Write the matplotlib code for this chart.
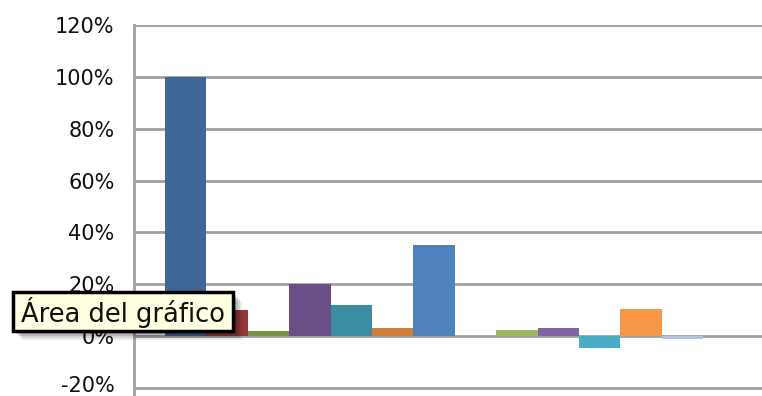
import matplotlib.pyplot as plt
import matplotlib.transforms as mtransforms
from matplotlib.patches import FancyBboxPatch
from matplotlib.ticker import PercentFormatter

# one category, thirteen series (Excel-style clustered columns)
series_values = [1.00, 0.10, 0.02, 0.20, 0.12, 0.03, 0.35,
                 0.00, 0.025, 0.03, -0.045, 0.105, -0.01]
series_colors = ["#3E6797", "#953735", "#77933C", "#6A4F87", "#3C8DA3", "#D07D3A",
                 "#4F81BD", "#C0504D", "#9BBB59", "#8064A2", "#4BACC6", "#F79646",
                 "#B3C2E2"]
y_ticks = [-0.2, 0.0, 0.2, 0.4, 0.6, 0.8, 1.0, 1.2]
tooltip_text = "Área del gráfico"

plt.rcParams["axes.unicode_minus"] = False

W, H = 762, 396
fig = plt.figure(figsize=(W / 100, H / 100), dpi=100)
ax = fig.add_axes([134 / W, 0, (W - 134) / W, 1 - 25 / H])

xs = list(range(len(series_values)))
ax.bar(xs, series_values, width=1.0, color=series_colors, linewidth=0, zorder=3)

# 20% step is ~52 px; let the axis run a little below -20%
ax.set_ylim(-0.2 - 8 / 260, 1.2)
ax.set_xlim(-1.25, -1.25 + (W - 134) / 41.4)
ax.yaxis.set_major_formatter(PercentFormatter(1.0, decimals=0))
ax.set_yticks(y_ticks)
ax.set_xticks([])
ax.grid(axis="y", color="#A0A0A0", linewidth=2, zorder=0)
for s in ["top", "right", "bottom"]:
    ax.spines[s].set_visible(False)
ax.spines["left"].set_color("#A0A0A0")
ax.spines["left"].set_linewidth(2)
ax.tick_params(axis="y", length=0, pad=14, labelsize=15, labelcolor="#111111")

# lift the bottom label a touch so it stays inside the canvas
bottom_lbl = ax.get_yticklabels()[0]
bottom_lbl.set_transform(bottom_lbl.get_transform() +
                         mtransforms.ScaledTranslation(0, 4 / 100, fig.dpi_scale_trans))

# hover tooltip with a soft shadow
bx0, by0, bx1, by1 = 13, 292, 233, 331
for i, a in enumerate([0.08, 0.10, 0.13, 0.16, 0.2]):
    off = 9 - 2 * i
    sh = FancyBboxPatch(((bx0 + off) / W, 1 - (by1 + off) / H),
                        (bx1 - bx0) / W, (by1 - by0) / H,
                        boxstyle="square,pad=0", transform=fig.transFigure,
                        facecolor="#000000", edgecolor="none", alpha=a, zorder=5)
    fig.patches.append(sh)
box = FancyBboxPatch((bx0 / W, 1 - by1 / H), (bx1 - bx0) / W, (by1 - by0) / H,
                     boxstyle="square,pad=0", transform=fig.transFigure,
                     facecolor="#FFFFE1", edgecolor="#000000", linewidth=2.5, zorder=6)
fig.patches.append(box)
fig.text((bx0 + bx1) / 2 / W, 1 - (by0 + by1) / 2 / H - 1 / H, tooltip_text,
         ha="center", va="center", fontsize=18.5, color="#111111", zorder=7)

fig.savefig("out.png", dpi=100)
